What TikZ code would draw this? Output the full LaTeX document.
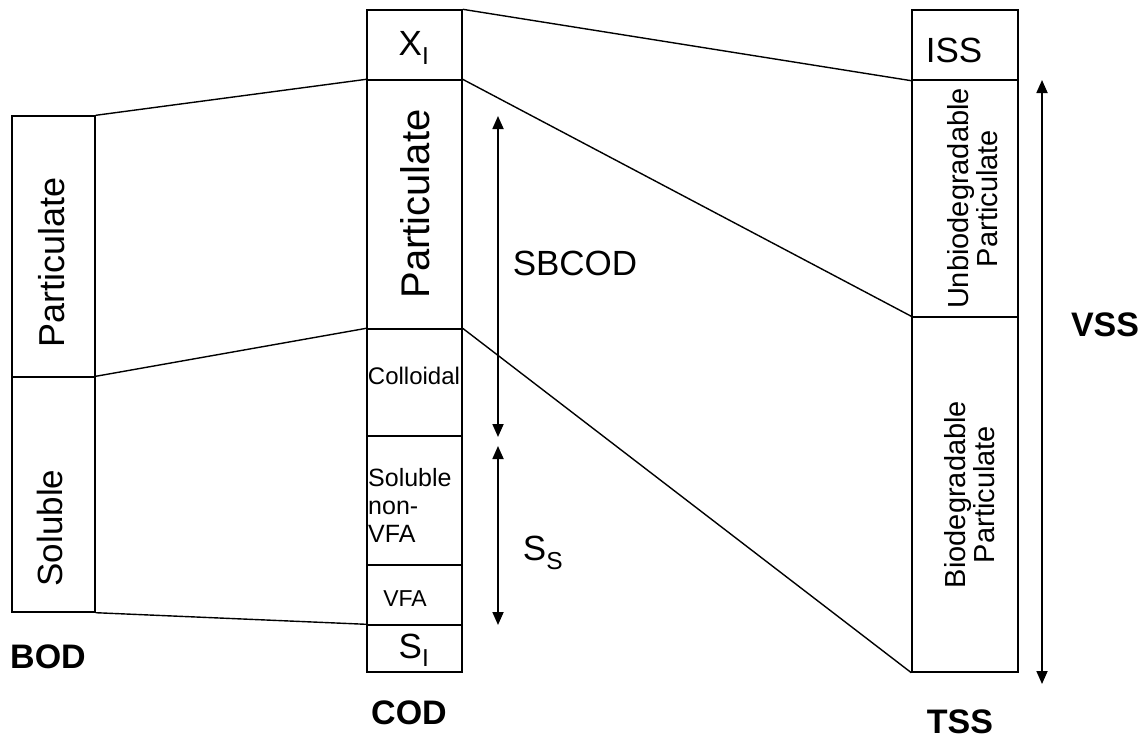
\documentclass[tikz,border=0pt]{standalone}
\usepackage{fontspec}
\setmainfont{Liberation Sans}
\usetikzlibrary{arrows.meta}

\tikzset{
  wwbox/.style={draw, line width=1.4pt, inner sep=0pt},
  wwline/.style={line width=1.4pt},
  wwarrow/.style={line width=1.8pt, {Triangle[length=13pt,width=11pt]}-{Triangle[length=13pt,width=11pt]}},
  bigtext/.style={inner sep=0pt, font=\fontsize{35}{38}\selectfont},
  midtext/.style={inner sep=0pt, font=\fontsize{29}{29}\selectfont, align=center},
  smalltext/.style={inner sep=0pt, font=\fontsize{23}{24}\selectfont},
  headtext/.style={inner sep=0pt, font=\fontsize{34}{38}\selectfont\bfseries}
}

\begin{document}
\begin{tikzpicture}[x=1pt, y=-1pt]
\useasboundingbox (0,0) rectangle (1142,742);

\node[wwbox, minimum width=83pt, minimum height=261pt] (bodp) at (53.5,246.5) {};
\node[wwbox, minimum width=83pt, minimum height=235pt] (bods) at (53.5,494.5) {};

\node[wwbox, minimum width=95pt, minimum height=70pt] (codxi) at (414.5,45) {};
\node[wwbox, minimum width=95pt, minimum height=249pt] (codp) at (414.5,204.5) {};
\node[wwbox, minimum width=95pt, minimum height=107pt] (codcol) at (414.5,382.5) {};
\node[wwbox, minimum width=95pt, minimum height=129pt] (codnv) at (414.5,500.5) {};
\node[wwbox, minimum width=95pt, minimum height=60pt] (codvfa) at (414.5,595) {};
\node[wwbox, minimum width=95pt, minimum height=47pt] (codsi) at (414.5,648.5) {};

\node[wwbox, minimum width=106pt, minimum height=70pt] (tssiss) at (965,45) {};
\node[wwbox, minimum width=106pt, minimum height=237pt] (tssub) at (965,198.5) {};
\node[wwbox, minimum width=106pt, minimum height=355pt] (tssbio) at (965,494.5) {};

\node[bigtext, rotate=90, font=\fontsize{36}{38}\selectfont] (tbodp) at (52,262) {Particulate};
\node[bigtext, rotate=90] (tbods) at (50,528) {Soluble};
\node[bigtext] (txi) at (414,48) {X\textsubscript{I}};
\node[bigtext, rotate=90, font=\fontsize{40}{42}\selectfont] (tcodp) at (415,204) {Particulate};
\node[smalltext, font=\fontsize{24}{24}\selectfont] (tcol) at (414,376) {Colloidal};
\node[smalltext, font=\fontsize{25}{28}\selectfont, align=left, anchor=west] (tnv) at (368,505) {Soluble\\non-\\VFA};
\node[smalltext] (tvfa) at (405,599) {VFA};
\node[bigtext] (tsi) at (414,650) {S\textsubscript{I}};
\node[bigtext] (tiss) at (954,50) {ISS};
\node[midtext, rotate=90] (tub) at (973,198.5) {Unbiodegradable\\Particulate};
\node[midtext, rotate=90] (tbio) at (970,494.5) {Biodegradable\\Particulate};

\node[bigtext] (tsbcod) at (575,263) {SBCOD};
\node[bigtext] (tss) at (543,553) {S\textsubscript{S}};

\node[headtext] (hbod) at (48,657) {BOD};
\node[headtext] (hcod) at (409,713) {COD};
\node[headtext] (htss) at (960,722) {TSS};
\node[headtext] (hvss) at (1105,325) {VSS};

\coordinate (sbtop) at (498,116);
\coordinate (sbbot) at (498,437);
\coordinate (sstop) at (498,446);
\coordinate (ssbot) at (498,625);
\coordinate (vsstop) at (1042,80);
\coordinate (vssbot) at (1042,684);

\draw[wwline] (bodp.north east) -- (codp.north west);
\draw[wwline] (bods.north east) -- (codcol.north west);
\draw[wwline] (bods.south east) -- (codsi.north west);

\draw[wwline] (codxi.north east) -- (tssiss.south west);
\draw[wwline] (codp.north east) -- (tssbio.north west);
\draw[wwline] (codcol.north east) -- (tssbio.south west);

\draw[wwarrow] (sbtop) -- (sbbot);
\draw[wwarrow] (sstop) -- (ssbot);
\draw[wwarrow] (vsstop) -- (vssbot);
\end{tikzpicture}
\end{document}
